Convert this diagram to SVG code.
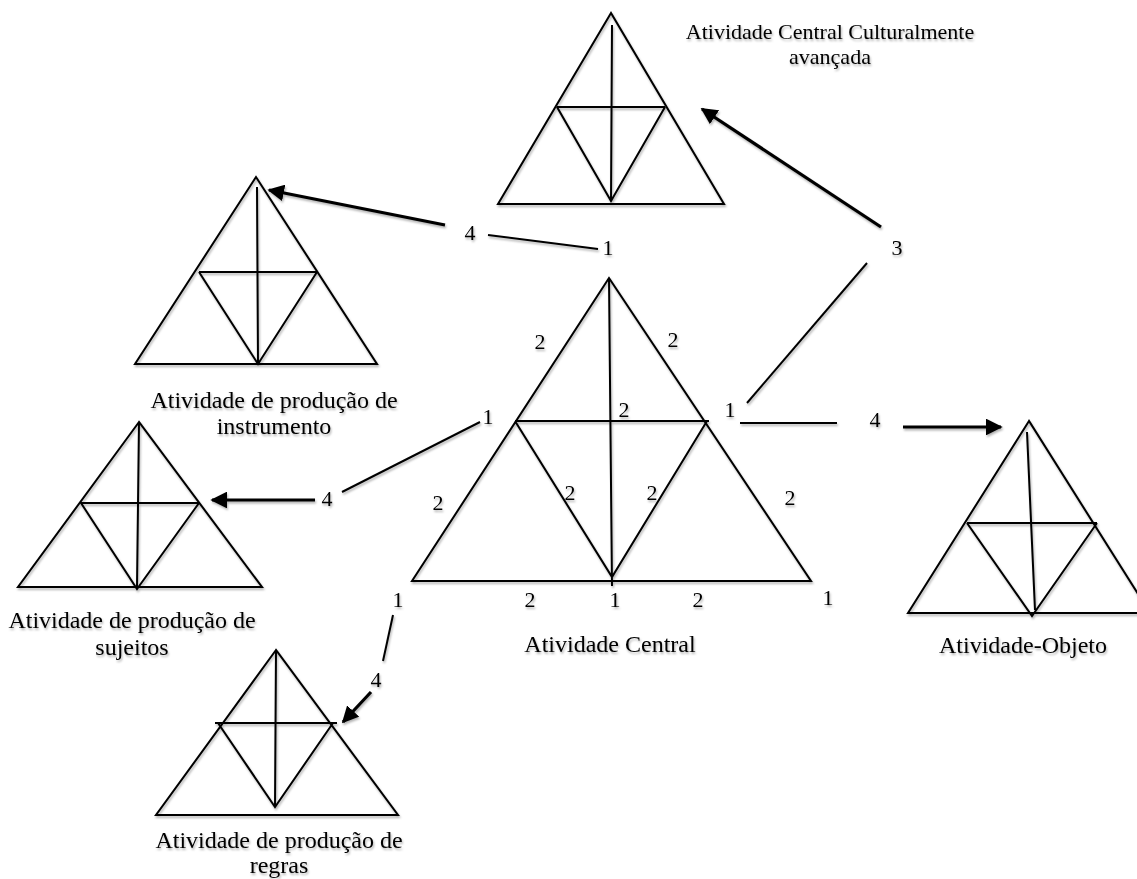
<svg xmlns="http://www.w3.org/2000/svg" width="1137" height="879" viewBox="0 0 1137 879">
  <defs>
    <filter id="soft" x="-10%" y="-10%" width="120%" height="130%">
      <feDropShadow dx="1" dy="2" stdDeviation="1.2" flood-color="#000" flood-opacity="0.3"/>
    </filter>
    <marker id="head" viewBox="0 0 10 10" refX="9" refY="5" markerWidth="5.2" markerHeight="5.2" orient="auto" markerUnits="strokeWidth">
      <path d="M0,0 L10,5 L0,10 Z" fill="#000"/>
    </marker>
    <style>
      .tri { fill: none; stroke: #000; stroke-width: 2; stroke-linejoin: miter; }
      .lnk { fill: none; stroke: #000; stroke-width: 2; }
      .arr { fill: none; stroke: #000; stroke-width: 3.2; marker-end: url(#head); }
      .cap { font-family: "Liberation Serif", "Times New Roman", serif; font-size: 24px; fill: #000; text-anchor: middle; }
      .num { font-family: "Liberation Serif", "Times New Roman", serif; font-size: 22px; fill: #000; text-anchor: middle; }
    </style>
  </defs>
  <rect width="1137" height="879" fill="#fff"/>

  <g filter="url(#soft)">
    <!-- culturally advanced central activity -->
    <g id="node-culturalmente">
      <path class="tri" d="M611,13 L498,204 L724,204 Z M557,107 L665,107 M557,107 L611,201 L665,107 M612,25 L611,201"/>
      <text class="cap" x="830" y="39" style="font-size:22px">Atividade Central Culturalmente</text>
      <text class="cap" x="830" y="64" style="font-size:22px">avançada</text>
    </g>

    <!-- instrument-producing activity -->
    <g id="node-instrumento">
      <path class="tri" d="M256,177 L135,364 L377,364 Z M199,272 L317,272 M199,272 L258,364 L317,272 M257,187 L258,364"/>
      <text class="cap" x="274" y="408">Atividade de produção de</text>
      <text class="cap" x="274" y="434">instrumento</text>
    </g>

    <!-- central activity -->
    <g id="node-central">
      <path class="tri" d="M609,278 L412,581 L811,581 Z M515,421 L709,421 M515,421 L612,577 L707,421 M609,278 L612,586"/>
      <text class="num" x="540" y="349">2</text>
      <text class="num" x="673" y="347">2</text>
      <text class="num" x="624" y="417">2</text>
      <text class="num" x="570" y="500">2</text>
      <text class="num" x="652" y="500">2</text>
      <text class="num" x="438" y="510">2</text>
      <text class="num" x="790" y="505">2</text>
      <text class="num" x="530" y="607">2</text>
      <text class="num" x="615" y="607">1</text>
      <text class="num" x="698" y="607">2</text>
      <text class="num" x="828" y="605">1</text>
      <text class="cap" x="610" y="652">Atividade Central</text>
    </g>

    <!-- subject-producing activity -->
    <g id="node-sujeitos">
      <path class="tri" d="M139,422 L18,587 L262,587 Z M81,503 L199,503 M81,503 L137,589 L199,503 M139,422 L137,587"/>
      <text class="cap" x="132" y="628">Atividade de produção de</text>
      <text class="cap" x="132" y="655">sujeitos</text>
    </g>

    <!-- rule-producing activity -->
    <g id="node-regras">
      <path class="tri" d="M276,650 L156,815 L398,815 Z M215,723 L337,723 M218,723 L275,807 L333,723 M276,650 L275,807"/>
      <text class="cap" x="279" y="848">Atividade de produção de</text>
      <text class="cap" x="279" y="873">regras</text>
    </g>

    <!-- object activity -->
    <g id="node-objeto">
      <path class="tri" d="M1029,421 L908,613 L1150,613 Z M967,523 L1097,523 M967,523 L1032,616 L1097,523 M1027,432 L1035,610"/>
      <text class="cap" x="1023" y="653">Atividade-Objeto</text>
    </g>

    <!-- connectors with their step numbers -->
    <g id="connectors">
      <!-- to instrument production -->
      <text class="num" x="608" y="255">1</text>
      <line class="lnk" x1="598" y1="249" x2="488" y2="235"/>
      <text class="num" x="470" y="240">4</text>
      <line class="arr" x1="445" y1="225" x2="269" y2="190"/>

      <!-- to subject production -->
      <text class="num" x="488" y="424">1</text>
      <line class="lnk" x1="480" y1="422" x2="342" y2="492"/>
      <text class="num" x="327" y="506">4</text>
      <line class="arr" x1="315" y1="500" x2="212" y2="500"/>

      <!-- to rule production -->
      <text class="num" x="398" y="607">1</text>
      <line class="lnk" x1="393" y1="615" x2="383" y2="661"/>
      <text class="num" x="376" y="687">4</text>
      <line class="arr" x1="371" y1="692" x2="343" y2="722"/>

      <!-- to the culturally advanced activity -->
      <text class="num" x="730" y="417">1</text>
      <line class="lnk" x1="747" y1="403" x2="867" y2="263"/>
      <text class="num" x="897" y="255">3</text>
      <line class="arr" x1="881" y1="227" x2="702" y2="109"/>

      <!-- to the object activity -->
      <line class="lnk" x1="740" y1="423" x2="837" y2="423"/>
      <text class="num" x="875" y="427">4</text>
      <line class="arr" x1="903" y1="427" x2="1001" y2="427"/>
    </g>
  </g>
</svg>
